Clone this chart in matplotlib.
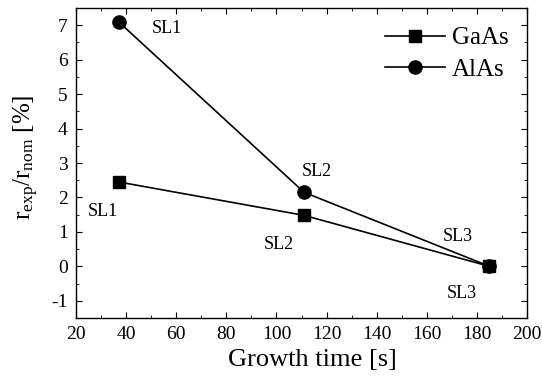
import matplotlib
matplotlib.use("Agg")
import matplotlib.pyplot as plt
from matplotlib.ticker import MultipleLocator

plt.rcParams['font.family'] = ['Liberation Serif', 'DejaVu Serif']
plt.rcParams['mathtext.fontset'] = 'custom'
plt.rcParams['mathtext.rm'] = 'Liberation Serif'
plt.rcParams['mathtext.it'] = 'Liberation Serif:italic'
plt.rcParams['axes.unicode_minus'] = False

time_s = [37, 111, 185]
gaas = [2.45, 1.48, 0.0]
alas = [7.1, 2.15, 0.0]
sl_labels = ["SL1", "SL2", "SL3"]
gaas_label_pos = [(24.8, 1.6), (95, 0.63), (168.0, -0.78)]
alas_label_pos = [(50.3, 6.9), (110.2, 2.76), (166.5, 0.86)]

fig = plt.figure(figsize=(5.42, 3.81), dpi=100)
L, R, T, B = 76, 527, 8, 318
ax = fig.add_axes([L/542, 1-B/381, (R-L)/542, (B-T)/381])

ax.plot(time_s, gaas, '-', color='black', marker='s', markersize=8.5, lw=1.2, label='GaAs')
ax.plot(time_s, alas, '-', color='black', marker='o', markersize=9.5, lw=1.2, label='AlAs')

for lab, (x, y) in zip(sl_labels, gaas_label_pos):
    ax.text(x, y, lab, fontsize=13, va='center', ha='left')
for lab, (x, y) in zip(sl_labels, alas_label_pos):
    ax.text(x, y, lab, fontsize=13, va='center', ha='left')

ax.set_xlim(20, 200)
ax.set_ylim(-1.5, 7.5)
ax.xaxis.set_major_locator(MultipleLocator(20))
ax.xaxis.set_minor_locator(MultipleLocator(10))
ax.yaxis.set_major_locator(MultipleLocator(1))
ax.yaxis.set_minor_locator(MultipleLocator(0.5))
ax.tick_params(which='both', direction='in', top=True, right=True, labelsize=14)
ax.tick_params(which='major', length=4, pad=6)
ax.tick_params(which='minor', length=2.5)
for s in ax.spines.values():
    s.set_linewidth(1.0)

ax.set_xlabel('Growth time [s]', fontsize=19, labelpad=4)
ax.xaxis.label.set_x(0.524)
ax.set_ylabel(r'$\mathregular{r_{exp}/r_{nom}}$ [%]', fontsize=18, labelpad=7)
ax.yaxis.label.set_y(0.52)

leg = ax.legend(loc='upper right', frameon=False, fontsize=18, handlelength=2.4,
                borderaxespad=0.35, labelspacing=0.35, handletextpad=0.25)

fig.savefig('out.png', dpi=100)
